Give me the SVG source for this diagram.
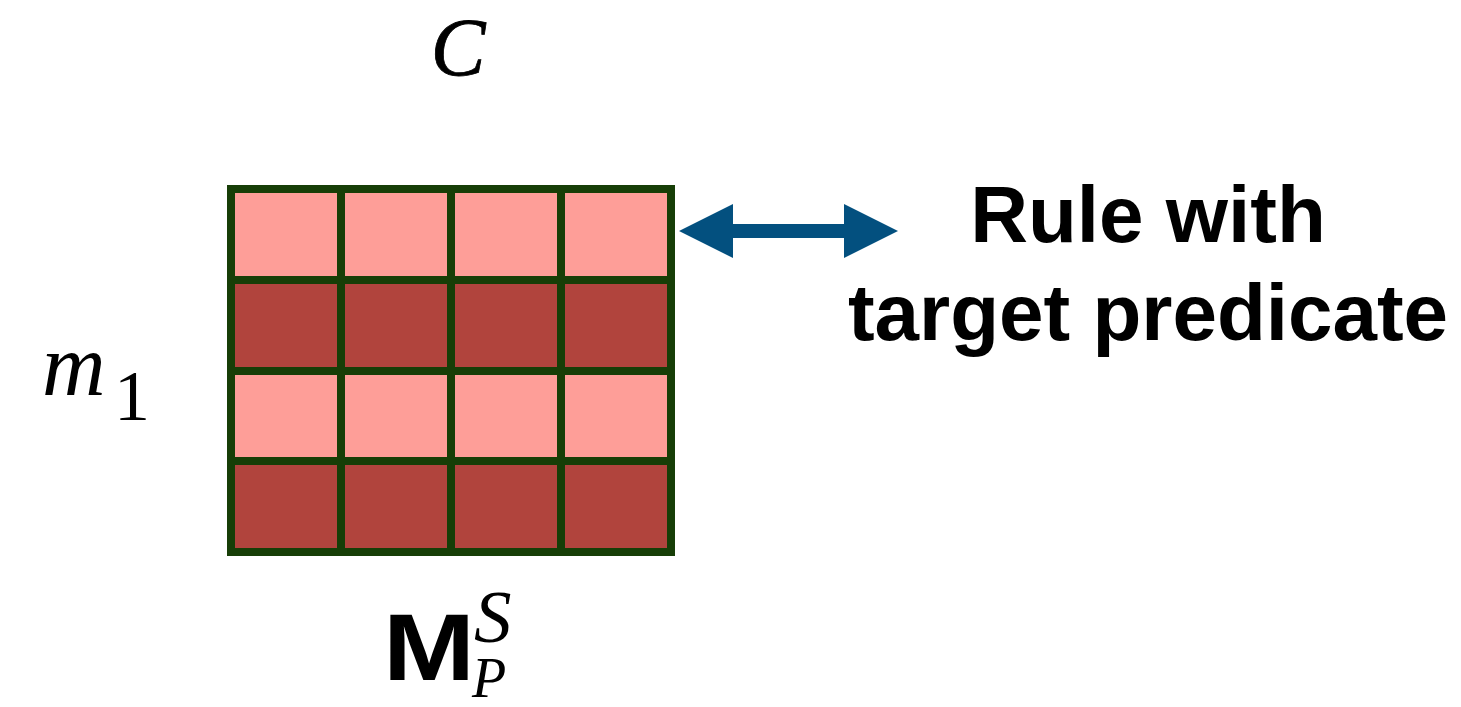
<svg xmlns="http://www.w3.org/2000/svg" width="1461" height="707" viewBox="0 0 1461 707">
  <style>
    .light { fill: #fe9e98; }
    .dark { fill: #b1443d; }
    .grid { fill: none; stroke: #173e07; stroke-width: 8; stroke-linecap: square; }
    .math { font-family: "Liberation Serif", "DejaVu Serif", serif; fill: #000; }
    .label { font-family: "Liberation Sans", Arial, sans-serif; font-weight: bold; font-size: 80px; fill: #000; text-anchor: middle; }
    .arrow { fill: #03507f; }
  </style>

  <!-- matrix M_P^S: 4 rows x 4 columns -->
  <g id="matrix">
    <rect class="light" x="231" y="189" width="440" height="91"/>
    <rect class="dark" x="231" y="280" width="440" height="91"/>
    <rect class="light" x="231" y="371" width="440" height="90"/>
    <rect class="dark" x="231" y="461" width="440" height="91"/>
    <path class="grid" d="M231 189H671V552H231Z M341 189V552 M451 189V552 M561 189V552 M231 280H671 M231 371H671 M231 461H671"/>
  </g>

  <!-- column label -->
  <g id="label-c">
    <text class="math" x="458" y="75" font-size="82" font-style="italic" text-anchor="middle" stroke="#000" stroke-width="0.8">C</text>
  </g>

  <!-- row label -->
  <g id="label-m1">
    <text class="math" x="42" y="395" font-size="88" font-style="italic">m</text>
    <text class="math" x="114" y="420" font-size="72">1</text>
  </g>

  <!-- matrix name -->
  <g id="label-matrix">
    <text x="383" y="680" font-family="Liberation Sans, Arial, sans-serif" font-weight="bold" font-size="94" textLength="92" lengthAdjust="spacingAndGlyphs">M</text>
    <text class="math" x="474" y="642" font-size="75" font-style="italic">S</text>
    <text class="math" x="472" y="697" font-size="56" font-style="italic">P</text>
  </g>

  <!-- rule description -->
  <g id="rule">
    <text class="label" x="1148" y="242">Rule with</text>
    <text class="label" x="1148" y="340">target predicate</text>
  </g>

  <!-- double-headed connector between first row and rule -->
  <g id="connectors">
    <path class="arrow" d="M679 231L733 204V224H844V204L898 231L844 258V238H733V258Z"/>
  </g>
</svg>
